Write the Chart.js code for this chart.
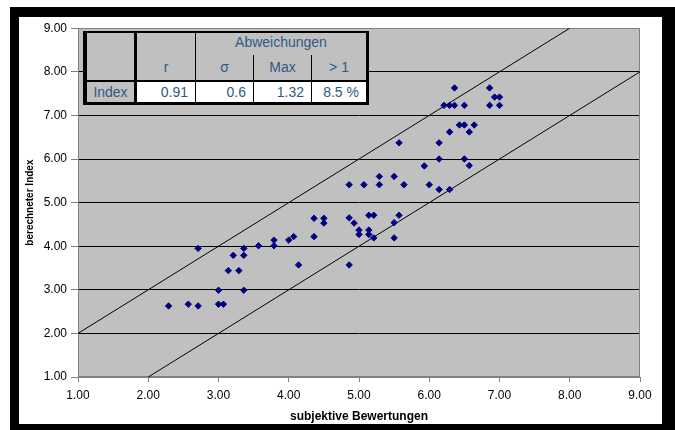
<!DOCTYPE html>
<html>
<head>
<meta charset="utf-8">
<script src="https://cdn.jsdelivr.net/npm/chart.js"></script>
<style>
   body { margin: 0; width: 675px; height: 430px; overflow: hidden; position: relative; background: #fff;
          font-family: "Liberation Sans", Arial, sans-serif; }
   #frame { position: absolute; left: 10px; top: 7px; width: 643px; height: 407px; background: #fff;
            border-style: solid; border-color: #000; border-width: 10px 13px 6px 9px; }
   #wrap { position: absolute; left: 0; top: 0; width: 643px; height: 407px; }
   #stats { position: absolute; left: 83px; top: 31px; width: 286px; height: 74px; background: #000; }
   #stats div { position: absolute; color: #2f5a85; font-size: 14px; line-height: 20px; box-sizing: border-box; }
   #stats .gray { background: #c0c0c0; }
   #stats .white { background: #fff; text-align: right; padding-right: 7px; }
</style>
</head>
<body>
<div id="frame"><div id="wrap"><canvas id="chart"></canvas></div></div>
<div id="stats"></div>
<script>
// subjektive Bewertungen (x) vs. berechneter Index (y)
const subjektiv = [
   2.29, 2.57, 2.71, 2.71, 3.00, 3.00, 3.07, 3.14, 3.29, 3.21, 3.36, 3.36, 3.36,
   3.57, 3.79, 3.79, 4.00, 4.07, 4.14, 4.36, 4.36, 4.50, 4.50,
   4.86, 4.93, 5.00, 5.00, 5.14, 5.14, 5.14, 5.21, 5.21, 5.57, 5.50, 5.50, 4.86,
   4.86, 5.07, 5.29, 5.29, 5.50, 5.64, 5.93, 6.00, 6.14, 6.29, 6.57,
   6.14, 6.14, 6.29, 6.43, 6.50, 6.64, 6.57, 6.50,
   6.21, 6.29, 6.36, 6.50, 6.36, 6.86, 6.86, 6.93, 7.00, 7.00, 5.57
];
const index = [
   2.63, 2.67, 2.63, 3.95, 2.99, 2.67, 2.67, 3.44, 3.44, 3.79, 3.79, 3.95, 2.99,
   4.01, 4.01, 4.14, 4.14, 4.22, 3.57, 4.22, 4.64, 4.64, 4.53,
   4.65, 4.53, 4.37, 4.27, 4.37, 4.27, 4.71, 4.71, 4.19, 4.71, 4.54, 4.19, 3.57,
   5.41, 5.41, 5.41, 5.60, 5.60, 5.41, 5.84, 5.41, 5.30, 5.30, 5.85,
   6.00, 6.37, 6.62, 6.78, 6.78, 6.78, 6.62, 6.00,
   7.23, 7.23, 7.23, 7.23, 7.63, 7.63, 7.23, 7.42, 7.42, 7.23, 6.37
];

// +1 / -1 Abweichungsgrenzen
const upperX = [1, 8];
const upperY = [2, 9];
const lowerX = [2, 9];
const lowerY = [1, 8];

// Kennwerte-Tabelle
const statHeads = ['r', 'σ', 'Max', '> 1'];
const statValues = ['0.91', '0.6', '1.32', '8.5 %'];
const rowLabel = 'Index';
const groupLabel = 'Abweichungen';

function toPoints(xs, ys) {
   return xs.map((x, i) => ({ x: x, y: ys[i] }));
}

// table drawn as boxes on a black ground, the gaps are the borders
function buildStats() {
   const box = document.getElementById('stats');
   const cols = [[54, 58], [113, 57], [171, 57], [229, 54]];
   const add = (cls, l, t, w, h, text, extra) => {
      let d = document.createElement('div');
      if (cls) d.className = cls;
      Object.assign(d.style, { left: l + 'px', top: t + 'px', width: w + 'px', height: h + 'px' }, extra || {});
      if (text) d.textContent = text;
      box.appendChild(d);
      return d;
   };
   add('gray', 4, 2, 47, 47);
   add('gray', 54, 2, 58, 47);
   add('gray', 113, 2, 170, 47);
   add('', 170, 24, 1, 25, null, { background: '#000' });
   add('', 228, 24, 1, 25, null, { background: '#000' });
   add('', 113, 2, 170, 20, groupLabel, { textAlign: 'center', top: '1px' });
   cols.forEach((c, i) => {
      add('', c[0], 26, c[1], 20, statHeads[i], { textAlign: 'center' });
   });
   add('gray', 4, 51, 47, 20, rowLabel, { textAlign: 'center' });
   cols.forEach((c, i) => {
      add('white', c[0], 51, c[1], 20, statValues[i]);
   });
}
buildStats();

const plotBg = {
   id: 'plotBg',
   beforeDraw(chart) {
      const { ctx, chartArea: a } = chart;
      ctx.save();
      ctx.fillStyle = '#c0c0c0';
      ctx.fillRect(a.left, a.top, a.width, a.height);
      ctx.restore();
   },
   beforeDatasetsDraw(chart) {
      const { ctx, chartArea: a } = chart;
      ctx.save();
      ctx.strokeStyle = '#808080';
      ctx.lineWidth = 1;
      ctx.strokeRect(Math.round(a.left) + 0.5, Math.round(a.top) + 0.5,
                     Math.round(a.width) - 1, Math.round(a.height) - 1);
      ctx.restore();
   }
};

new Chart(document.getElementById('chart'), {
   type: 'scatter',
   data: {
      datasets: [
         {
            data: toPoints(subjektiv, index),
            pointStyle: 'rectRot',
            pointRadius: 3.2,
            backgroundColor: '#000080',
            borderColor: '#000080',
            borderWidth: 1
         },
         {
            data: toPoints(upperX, upperY),
            showLine: true,
            pointRadius: 0,
            borderColor: '#000',
            borderWidth: 1
         },
         {
            data: toPoints(lowerX, lowerY),
            showLine: true,
            pointRadius: 0,
            borderColor: '#000',
            borderWidth: 1
         }
      ]
   },
   options: {
      responsive: true,
      maintainAspectRatio: false,
      animation: false,
      events: [],
      layout: { padding: { top: 7.5, right: 22, left: 0, bottom: 0 } },
      plugins: { legend: { display: false }, tooltip: { enabled: false } },
      scales: {
         x: {
            type: 'linear',
            min: 1,
            max: 9,
            afterFit: (s) => { s.height = 47; },
            ticks: {
               stepSize: 1,
               padding: 6,
               color: '#000',
               font: { family: '"Liberation Sans", Arial, sans-serif', size: 12 },
               callback: (v) => v.toFixed(2)
            },
            grid: { drawOnChartArea: false, tickLength: 5, tickColor: '#808080' },
            border: { color: '#808080' },
            title: {
               display: true,
               text: 'subjektive Bewertungen',
               color: '#000',
               padding: { top: 0, bottom: 0 },
               font: { family: '"Liberation Sans", Arial, sans-serif', size: 12, weight: 'bold' }
            }
         },
         y: {
            min: 1,
            max: 9,
            afterFit: (s) => { s.width = 59; },
            ticks: {
               stepSize: 1,
               padding: 4,
               color: '#000',
               font: { family: '"Liberation Sans", Arial, sans-serif', size: 12 },
               callback: (v) => v.toFixed(2)
            },
            grid: {
               color: (c) => (c.tick && (c.tick.value === 1 || c.tick.value === 9)) ? '#808080' : '#000',
               tickLength: 7,
               tickColor: '#808080'
            },
            border: { color: '#808080' },
            title: {
               display: true,
               text: 'berechneter Index',
               color: '#000',
               padding: { top: 5, bottom: 0 },
               font: { family: '"Liberation Sans", Arial, sans-serif', size: 10, weight: 'bold' }
            }
         }
      }
   },
   plugins: [plotBg]
});
</script>
</body>
</html>
